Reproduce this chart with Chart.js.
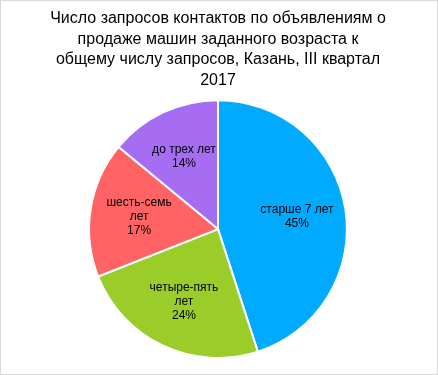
<!DOCTYPE html>
<html>
<head>
<meta charset="utf-8">
<script src="https://cdn.jsdelivr.net/npm/chart.js@4"></script>
<style>
  html, body { margin: 0; padding: 0; background: #fff; }
  #wrap { width: 438px; height: 375px; box-sizing: border-box; border: 1px solid #d9d9d9; }
</style>
</head>
<body>
<div id="wrap"><canvas id="myChart"></canvas></div>
<script>
const categories = ['старше 7 лет', 'четыре-пять лет', 'шесть-семь лет', 'до трех лет'];
const shares = [45, 24, 17, 14];
const colors = ['#00aaff', '#9acd2a', '#ff6363', '#a66df2'];
const titleLines = [
  'Число запросов контактов по объявлениям о',
  'продаже машин заданного возраста к',
  'общему числу запросов, Казань, III квартал',
  '2017'
];

// wraps a label into lines no wider than maxW
const wrap = (ctx, text, maxW) => {
  const words = text.split(' ');
  const lines = [];
  let cur = '';
  words.forEach(w => {
    const t = cur ? cur + ' ' + w : w;
    if (cur && ctx.measureText(t).width > maxW) {
      lines.push(cur);
      cur = w;
    } else {
      cur = t;
    }
  });
  if (cur) lines.push(cur);
  return lines;
};

const sliceLabels = {
  id: 'sliceLabels',
  afterDatasetsDraw: (chart) => {
    const ctx = chart.ctx;
    const meta = chart.getDatasetMeta(0);
    ctx.save();
    ctx.font = '12px "Liberation Sans", Arial, sans-serif';
    ctx.fillStyle = '#000';
    ctx.textAlign = 'center';
    ctx.textBaseline = 'middle';
    meta.data.forEach((arc, i) => {
      const {x, y, startAngle, endAngle, outerRadius} = arc.getProps(['x', 'y', 'startAngle', 'endAngle', 'outerRadius'], true);
      const mid = (startAngle + endAngle) / 2;
      const r = outerRadius * 0.62;
      const cx = x + Math.cos(mid) * r;
      const cy = y + Math.sin(mid) * r;
      const lines = wrap(ctx, categories[i], 80).concat([shares[i] + '%']);
      const lh = 14;
      const top = cy - (lines.length - 1) * lh / 2;
      lines.forEach((l, k) => ctx.fillText(l, cx, top + k * lh));
    });
    ctx.restore();
  }
};

new Chart(document.getElementById('myChart'), {
  type: 'pie',
  data: {
    labels: categories,
    datasets: [{
      data: shares,
      backgroundColor: colors,
      borderColor: '#fff',
      borderWidth: 2,
      hoverOffset: 0
    }]
  },
  options: {
    responsive: true,
    maintainAspectRatio: false,
    animation: false,
    layout: { padding: { top: 0, bottom: 15, left: 0, right: 2 } },
    plugins: {
      legend: { display: false },
      tooltip: { enabled: false },
      title: {
        display: true,
        text: titleLines,
        color: '#000',
        font: { family: '"Liberation Sans", Arial, sans-serif', size: 16, weight: 'normal', lineHeight: 1.3 },
        padding: { top: 7, bottom: 8 }
      }
    }
  },
  plugins: [sliceLabels]
});
</script>
</body>
</html>
